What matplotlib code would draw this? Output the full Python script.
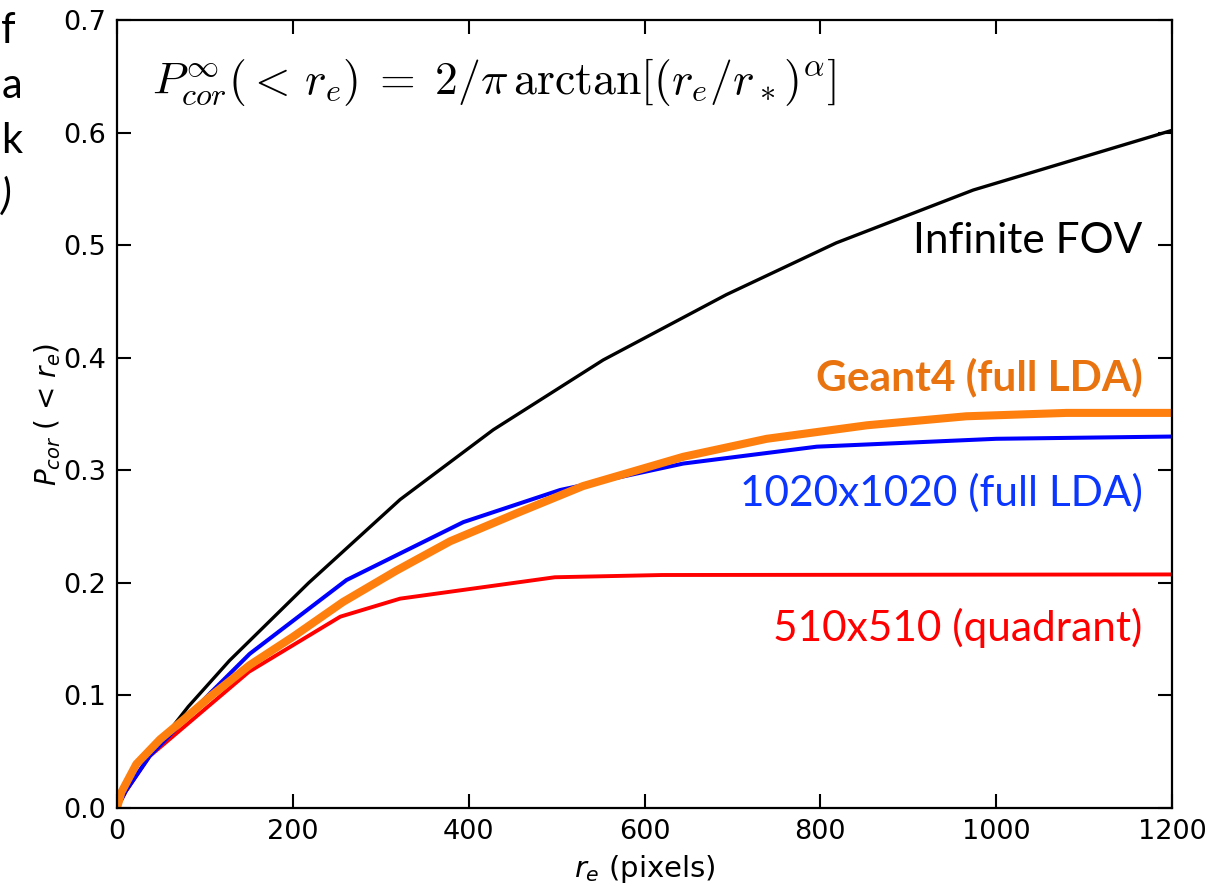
import matplotlib
matplotlib.use("Agg")
import matplotlib.pyplot as plt

# curve nodes (r_e in pixels, cumulative probability)
r_inf = [0, 10, 37, 81, 128, 218, 322, 428, 553, 693, 818, 974, 1200]
p_inf = [0, 0.015, 0.046, 0.090, 0.131, 0.200, 0.274, 0.336, 0.398, 0.456, 0.502, 0.549, 0.602]

r_geant = [0, 5, 22, 49, 75, 106, 151, 200, 257, 318, 379, 455, 530, 644, 739, 853, 966, 1080, 1200]
p_geant = [0, 0.014, 0.039, 0.061, 0.078, 0.099, 0.127, 0.152, 0.183, 0.211, 0.237, 0.262,
           0.286, 0.312, 0.328, 0.340, 0.348, 0.351, 0.351]

r_1020 = [0, 10, 37, 106, 151, 261, 394, 504, 644, 796, 1000, 1200]
p_1020 = [0, 0.015, 0.046, 0.102, 0.137, 0.2025, 0.254, 0.2825, 0.306, 0.321, 0.328, 0.330]

r_510 = [0, 10, 37, 150, 254, 322, 498, 620, 1200]
p_510 = [0, 0.015, 0.046, 0.121, 0.170, 0.186, 0.205, 0.207, 0.2075]

xticks = [0, 200, 400, 600, 800, 1000, 1200]
yticks = [0.0, 0.1, 0.2, 0.3, 0.4, 0.5, 0.6, 0.7]

fig = plt.figure(figsize=(12.21, 8.86), dpi=100)
ax = fig.add_axes([0.0958, 0.0880, 0.8641, 0.8894])

ax.plot(r_inf, p_inf, color='black', lw=2.4)
ax.plot(r_510, p_510, color='#ff0000', lw=2.8)
ax.plot(r_1020, p_1020, color='#0000ff', lw=2.9)
ax.plot(r_geant, p_geant, color='#ff7f0e', lw=5.8, solid_capstyle='butt')

ax.set_xlim(0, 1200)
ax.set_ylim(0, 0.7)
ax.set_xticks(xticks)
ax.set_yticks(yticks)
ax.set_yticklabels([f"{t:.1f}" for t in yticks])
ax.tick_params(direction='in', length=10, width=1.5, labelsize=19.5, pad=8,
               top=True, right=True)
for s in ax.spines.values():
    s.set_linewidth(1.6)

ax.set_xlabel(r'$r_e$ (pixels)', fontsize=21, labelpad=6)
ax.set_ylabel(r'$P_{cor}$ ( < $r_e$)', fontsize=20, labelpad=0)

ann = dict(family='Lato', fontsize=30.5, ha='right', transform=ax.transAxes)
ax.text(0.972, 0.704, 'Infinite FOV', color='black', **ann)
ax.text(0.972, 0.530, 'Geant4 (full LDA)', color='#e8730f', fontweight='bold', **ann)
ax.text(0.972, 0.384, '1020x1020 (full LDA)', color='#0a36ff', **ann)
ax.text(0.972, 0.212, '510x510 (quadrant)', color='#ff0000', **ann)

ax.text(0.033, 0.906,
        r'$P_{cor}^{\infty}(<\,r_e)\;=\;2/\pi\,\mathrm{arctan}[(r_e/r_*)^{\alpha}]$',
        fontsize=33, math_fontfamily='cm', transform=ax.transAxes)

# cropped text left over from the neighbouring slide column
for s, y in [('f', 0.952), ('a', 0.889), ('k', 0.827), (')', 0.764)]:
    fig.text(0.001, y, s, family='Lato', fontsize=30, ha='left',
             style='italic' if s == ')' else 'normal')

fig.savefig('out.png', dpi=100)
